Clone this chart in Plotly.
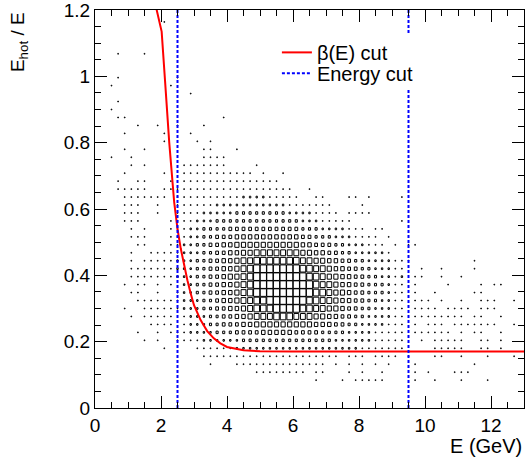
import plotly.graph_objects as go

# ---------------- data ----------------
# 2D histogram binning
x_min, x_max, x_nbins = 0.0, 13.0, 65
y_min, y_max, y_nbins = 0.0, 1.2, 50

# axis tick labels
x_tickvals = [0, 2, 4, 6, 8, 10, 12]
y_tickvals = [0, 0.2, 0.4, 0.6, 0.8, 1.0, 1.2]
y_ticktext = ["0", "0.2", "0.4", "0.6", "0.8", "1", "1.2"]

# box size levels per cell (0..9), rows from top (bin 49) to bottom (bin 0),
# 65 columns each, written in groups of 5 columns
rows_top_to_bottom = [
    "..... ..... ..... ..... ..... ..... ..... ..... ..... ..... ..... ..... .....",  # 49
    "..... ..... 1.... ..... ..... ..... ..... ..... ..... ..... ..... ..... .....",  # 48
    "..... ..... ..... ..... ..... ..... ..... ..... ..... ..... ..... ..... .....",  # 47
    "..... ..... ..... ..... ..... ..... ..... ..... ..... ..... ..... ..... .....",  # 46
    "..... ..... ..... ..... ..... ..... ..... ..... ..... ..... ..... ..... .....",  # 45
    "...1. ..1.. ..... ..... ..... ..... ..... ..... ..... ..... ..... ..... .....",  # 44
    "..... ..... ..... ..... ..... ..... ..... ..... ..... ..... ..... ..... .....",  # 43
    "..... ..... ..... ..... ..... ..... ..... ..... ..... ..... ..... ..... .....",  # 42
    "...1. ..... ..1.. ..... ..... ..... ..... ..... ..... ..... ..... ..... .....",  # 41
    "..1.. ..... .1... ..... ..... ..... ..... ..... ..... ..... ..... ..... .....",  # 40
    "..... ..... ....1 ..... ..... ..... ..... ..... ..... ..... ..... ..... .....",  # 39
    "...1. ..... ..... ..... ..... ..... ..... ..... ..... ..... ..... ..... .....",  # 38
    "..1.. ..... ..... ..... ..... ..... ..... ..... ..... ..... ..... ..... .....",  # 37
    "...11 ..... ..... ....1 ..... ..... ..... ..... ..... ..... ..... ..... .....",  # 36
    "..... .1..1 ..1.. .1... ..... ..... ..... ..... ..... ..... ..... ..... .....",  # 35
    "....1 ..... 1...1 ..... ..... ..... ..... ..... ..... ..... ..... ..... .....",  # 34
    "..... ..... 1.... 1.1.. ..... ..... ..... ..... ..... ..... ..... ..... .....",  # 33
    "....1 ..1.. ..... .11.. .1... ..... ..... ..... ..... ..... ..... ..... .....",  # 32
    "..1.. 1.... ..... .1111 ..... ..... ..... ..... ..... ..... ..... ..... .....",  # 31
    "..... 1.1.. ...11 11111 ....1 ..... ..... ..... ..... ..... ..... ..... .....",  # 30
    "....1 ..... 1..11 11111 1111. 1..1. ..... ..... ..... ..... ..... ..... .....",  # 29
    "...1. .11.. .1.11 11111 11111 111.. ..... ..... ..... ..... ..... ..... .....",  # 28
    "...11 111.. 11111 11111 11111 11111 ..1.. ..... ..... ..... ..... ..... .....",  # 27
    "....1 11111 1.111 11111 11222 21111 1..11 ...11 .1... .1... ..... ..... .....",  # 26
    "....1 11..1 ..111 11122 22222 22221 11111 1.... 1.... ..... ..... ..... .....",  # 25
    "....1 11..1 ..111 12222 23333 33332 22211 11.11 11... ..... ..... ..... .....",  # 24
    "....1 11... .1111 22233 33333 33333 32221 1111. ..... .1... ..... ..... .....",  # 23
    "..... 1.1.. .1112 23333 44444 44444 43332 22211 1.11. ..... ..... ..... .....",  # 22
    "..... 111.. .1112 23344 45555 55555 54433 32221 111.1 ..... ..... ..... .....",  # 21
    "..... .11.. .1122 33445 56666 66666 65544 43322 2111. 1.11. ..... ..... .....",  # 20
    "..... 1..11 11122 23344 55667 77777 76655 44332 22221 ..... ..... ..... .....",  # 19
    "..... 1.111 11222 33445 56778 88888 87766 55443 32222 111.. ..... ..1.. .....",  # 18
    "..... 11111 11222 33445 56789 99999 98877 65544 33222 11..1 ..1.. ..1.. .....",  # 17
    "..... 11111 11222 33445 66789 99999 99887 66554 43322 12.11 ..1.. 1.... .....",  # 16
    "....1 .11.1 .1.22 33445 56789 99999 99987 76554 43332 11.1. ...1. ...1. 11...",  # 15
    "..... 11..1 ..122 33445 56789 99999 99988 76654 43332 11.1. .1... ..11. .....",  # 14
    "..... .1111 11122 23345 56778 89999 99887 76554 43322 11.11 1.1.. 1..11 1..1.",  # 13
    "....1 ..111 11122 23344 55678 88999 98877 66544 33222 11.11 11.11 11.11 1....",  # 12
    "..... 1.111 11.12 22334 45567 77888 77766 55443 32222 11.11 11111 1.11. .1...",  # 11
    "..... ...11 11.12 22334 44556 66666 66655 54433 22221 11.1. 111.1 11111 1..1.",  # 10
    "..... .1..1 .1112 22233 34444 55555 44443 33322 22111 11.11 1111. 1.11. .1...",  # 9
    "..... ..1.1 ..111 12222 22333 33333 33333 32222 22111 11..1 .1111 1..11 .1...",  # 8
    "..... ..... 1.... 11111 12222 22222 22222 22222 11111 11... .1111 1..11 .1...",  # 7
    "..... ..... ..... .1111 11111 11111 11111 11.11 1.111 1.1.. .11.. 1...1 ...1.",  # 6
    "..... ..... ..... ..1.. .1111 11111 11111 .1.1. 1.1.1 ...1. ..... ..1.. .....",  # 5
    "..... ..... ..... ..... ....1 11111 11.11 ...1. 1..1. ...1. 1...1 11... .....",  # 4
    "..... ..... ..... ..... ..... ..... ...1. ..1.1 1111. ...1. .1... 1...1 .....",  # 3
    "..... ..... ..... ..... ..... ..... ..... ..... ..... ..... ..... ..... .....",  # 2
    "..... ..... ..... ..... ..... ..... ..... ..... ..... ..... ..... ..... .....",  # 1
    "..... ..... ..... ..... ..... ..... ..... ..... ..... ..... ..... ..... .....",  # 0
]
max_level = 9

# beta(E) cut curve
beta_E = [1.80, 1.87, 2.02, 2.12, 2.25, 2.40, 2.50, 2.60, 2.70, 2.80, 2.90, 3.00,
          3.20, 3.40, 3.60, 3.80, 4.00, 4.25, 4.50, 5.00, 6.00, 13.0]
beta_cut = [1.23, 1.20, 1.135, 0.99, 0.80, 0.62, 0.54, 0.48, 0.43, 0.385, 0.345, 0.31,
            0.265, 0.232, 0.21, 0.195, 0.184, 0.178, 0.174, 0.171, 0.170, 0.170]

# energy cuts (GeV)
energy_cuts = [2.5, 9.5]

# ---------------- styles ----------------
FONT = "Liberation Sans, Arial, Helvetica, sans-serif"
box_fill_fraction = 0.95

# ---------------- build boxes ----------------
dx = (x_max - x_min) / x_nbins
dy = (y_max - y_min) / y_nbins
bx, by = [], []
for r, row in enumerate(rows_top_to_bottom):
    k = y_nbins - 1 - r
    cells = row.replace(" ", "")
    for i, c in enumerate(cells):
        if c == ".":
            continue
        lvl = int(c)
        f = lvl / max_level * box_fill_fraction
        xc = x_min + (i + 0.5) * dx
        yc = y_min + (k + 0.5) * dy
        hw, hh = 0.5 * f * dx, 0.5 * f * dy
        bx += [xc - hw, xc + hw, xc + hw, xc - hw, xc - hw, None]
        by += [yc - hh, yc - hh, yc + hh, yc + hh, yc - hh, None]

fig = go.Figure()
fig.add_trace(go.Scatter(x=bx, y=by, mode="lines", line=dict(color="black", width=1),
                         showlegend=False, hoverinfo="skip"))
fig.add_trace(go.Scatter(x=beta_E, y=beta_cut, mode="lines", name="β(E) cut",
                         line=dict(color="red", width=2), legend="legend"))
ex, ey = [], []
for e in energy_cuts:
    ex += [e, e, None]
    ey += [y_min, y_max, None]
fig.add_trace(go.Scatter(x=ex, y=ey, mode="lines", name="Energy cut",
                         line=dict(color="blue", width=2, dash="3px,2px"), legend="legend2"))

axis_common = dict(
    showgrid=False, zeroline=False, showline=True, linecolor="black", linewidth=1,
    mirror="allticks", ticks="inside", ticklen=12, tickwidth=1, tickcolor="black",
    tickfont=dict(family=FONT, size=19, color="black"), ticklabeloverflow="allow",
)
fig.update_xaxes(range=[x_min, x_max], tickmode="array", tickvals=x_tickvals,
                 minor=dict(ticks="inside", ticklen=6, dtick=0.5, tick0=0,
                            tickcolor="black", showgrid=False),
                 **axis_common)
fig.update_yaxes(range=[y_min, y_max], tickmode="array", tickvals=y_tickvals,
                 ticktext=y_ticktext,
                 minor=dict(ticks="inside", ticklen=6, dtick=0.05, tick0=0,
                            tickcolor="black", showgrid=False),
                 **axis_common)

legend_style = dict(xanchor="left", yanchor="top", bgcolor="rgba(0,0,0,0)",
                    font=dict(family=FONT, size=20, color="black"))
fig.update_layout(
    width=525, height=465,
    margin=dict(l=95, r=0, t=5, b=57),
    paper_bgcolor="white", plot_bgcolor="white",
    font=dict(family=FONT, color="black"),
    showlegend=True,
    legend=dict(x=0.424, y=0.9425, **legend_style),
    legend2=dict(x=0.424, y=0.890, **legend_style),
    # white legend pad (covers the lines behind the legend, as in the original)
    shapes=[dict(type="rect", xref="paper", yref="paper", x0=0.395, x1=0.86,
                 y0=0.802, y1=0.939, fillcolor="white", line=dict(width=0),
                 layer="above")],
    annotations=[
        dict(text="E (GeV)", xref="paper", yref="paper", x=1.0, y=-0.096,
             xanchor="right", yanchor="middle", showarrow=False,
             font=dict(family=FONT, size=20, color="black")),
        dict(text="E<sub>hot</sub> / E", xref="paper", yref="paper", x=-0.177, y=1.0,
             xanchor="center", yanchor="top", textangle=-90, showarrow=False,
             font=dict(family=FONT, size=19, color="black")),
    ],
)

fig.write_html("out.html")
